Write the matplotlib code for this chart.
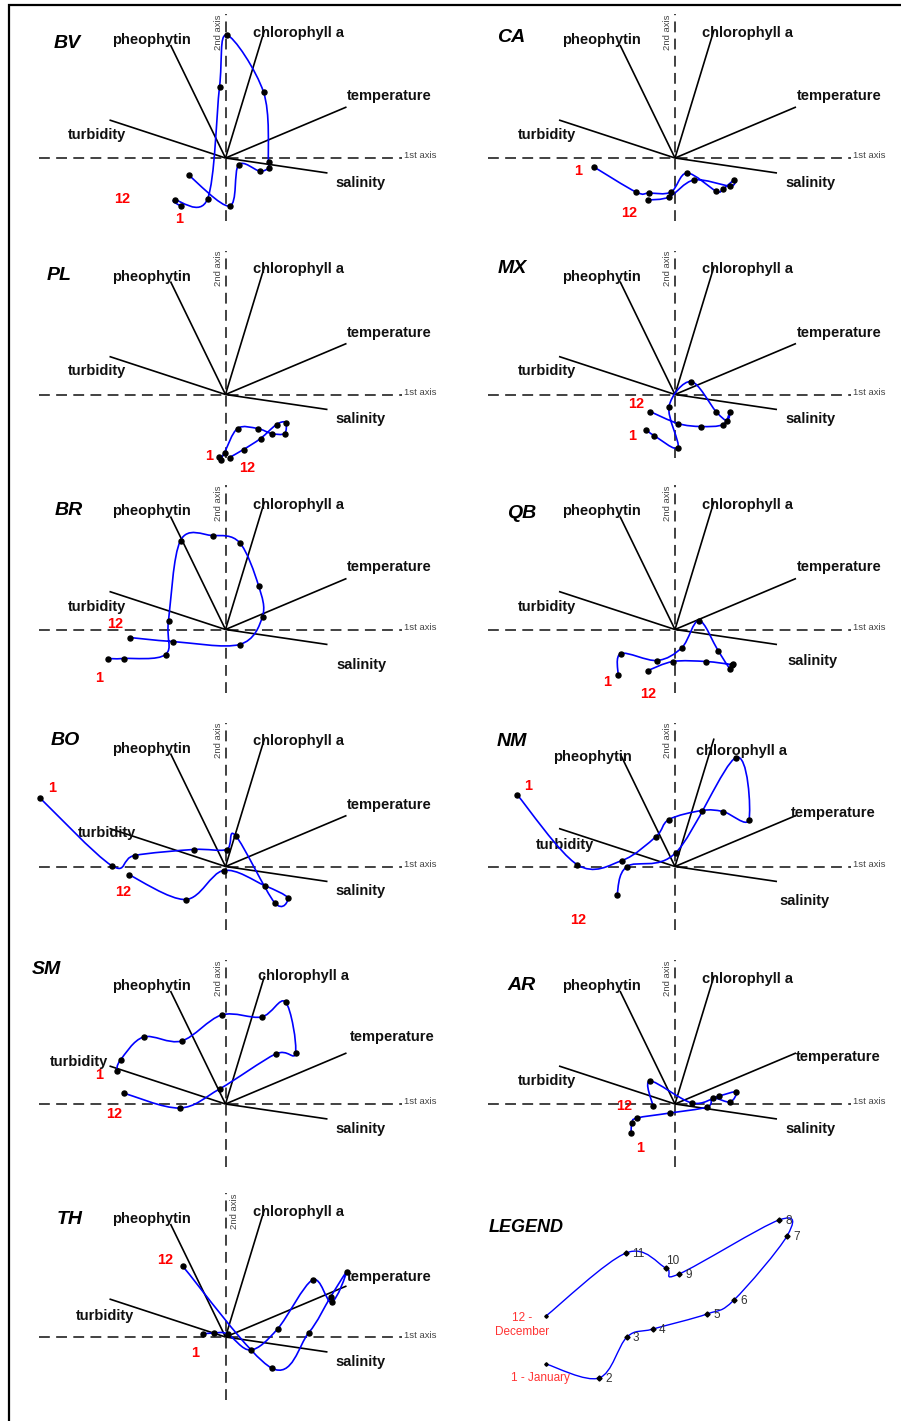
import numpy as np
import matplotlib
matplotlib.use("Agg")
import matplotlib.pyplot as plt
from matplotlib.path import Path
from matplotlib.patches import PathPatch, Rectangle

plt.rcParams['font.family'] = ['Liberation Sans', 'DejaVu Sans']

# environmental variables: end points of the vectors (same in every panel)
variables = ['turbidity', 'pheophytin', 'chlorophyll a', 'temperature', 'salinity']
load_x = [-116, -55, 39, 121, 102]
load_y = [38, 113, 128, 51, -15]

# monthly site scores, January .. December
sites = ['BV', 'CA', 'PL', 'MX', 'BR', 'QB', 'BO', 'NM', 'SM', 'AR', 'TH']
bv_x = [-45, -51, -18, -6, 1, 38, 43, 43, 34, 13, 4, -37]
bv_y = [-48, -42, -41, 71, 123, 66, -4, -10, -13, -7, -48, -17]
ca_x = [-81, -39, -26, -4, 12, 41, 48, 59, 55, 19, -6, -27]
ca_y = [-9, -34, -35, -34, -15, -33, -31, -22, -28, -22, -39, -42]
pl_x = [-7, -5, -1, 12, 32, 46, 59, 60, 51, 35, 18, 4]
pl_y = [-62, -65, -58, -34, -34, -39, -39, -28, -30, -44, -55, -63]
mx_x = [-29, -21, 3, -6, 16, 41, 52, 55, 48, 26, 3, -25]
mx_y = [-35, -41, -53, -12, 13, -17, -26, -17, -30, -32, -29, -17]
br_x = [-118, -102, -60, -57, -45, -13, 14, 33, 37, 14, -53, -96]
br_y = [-29, -29, -25, 9, 89, 94, 87, 44, 13, -15, -12, -8]
qb_x = [-57, -54, -18, 7, 24, 43, 55, 58, 57, 31, -2, -27]
qb_y = [-45, -24, -31, -18, 9, -21, -39, -34, -35, -32, -32, -41]
bo_x = [-186, -114, -91, -32, 1, 10, 49, 62, 39, -2, -40, -97]
bo_y = [69, 1, 11, 17, 17, 31, -36, -31, -19, -4, -33, -8]
nm_x = [-158, -98, -53, -19, -6, 27, 48, 74, 61, 1, -48, -58]
nm_y = [72, 2, 6, 30, 47, 56, 55, 47, 109, 14, 0, -28]
sm_x = [-109, -105, -82, -44, -4, 36, 60, 70, 50, -6, -46, -102]
sm_y = [33, 44, 67, 63, 89, 87, 102, 51, 50, 15, -4, 11]
ar_x = [-44, -43, -38, -5, 32, 38, 55, 61, 44, 17, -25, -22]
ar_y = [-29, -19, -14, -9, -3, 6, 2, 12, 8, 1, 23, -2]
th_x = [-23, -12, 2, 25, 52, 87, 106, 121, 105, 83, 46, -43]
th_y = [3, 4, 3, -13, 8, 57, 35, 65, 40, 4, -31, 71]
site_x = [bv_x, ca_x, pl_x, mx_x, br_x, qb_x, bo_x, nm_x, sm_x, ar_x, th_x]
site_y = [bv_y, ca_y, pl_y, mx_y, br_y, qb_y, bo_y, nm_y, sm_y, ar_y, th_y]

# legend example path
legend_x = [-129, -76, -48, -22, 32, 59, 112, 104, 4, -9, -49, -129]
legend_y = [-27, -41, 0, 8, 23, 37, 101, 117, 63, 69, 84, 21]

# ---- layout (pixels) ----
W, H = 901, 1421
col_x = [225.5, 675]
row_y = [158, 394.5, 629.5, 866.5, 1104, 1337]

title_pos = {'BV': (-158, 114), 'CA': (-164, 120), 'PL': (-166, 119), 'MX': (-163, 126),
             'BR': (-157, 119), 'QB': (-153, 116), 'BO': (-160, 126), 'NM': (-163, 125),
             'SM': (-179, 135), 'AR': (-153, 118), 'TH': (-156, 117)}
first_pos = {'BV': (-46, -61), 'CA': (-97, -13), 'PL': (-16, -62), 'MX': (-43, -42),
             'BR': (-126, -49), 'QB': (-68, -53), 'BO': (-173, 79), 'NM': (-147, 80),
             'SM': (-126, 29), 'AR': (-35, -44), 'TH': (-30, -16)}
last_pos = {'BV': (-103, -41), 'CA': (-46, -55), 'PL': (22, -73), 'MX': (-39, -10),
            'BR': (-110, 6), 'QB': (-27, -64), 'BO': (-102, -26), 'NM': (-97, -54),
            'SM': (-111, -10), 'AR': (-51, -2), 'TH': (-60, 77)}
var_pos_default = {'turbidity': (-128, 23), 'pheophytin': (-74, 118), 'chlorophyll a': (73, 125),
                   'temperature': (164, 62), 'salinity': (135, -25)}
var_pos_override = {
    'BR': {'salinity': (136, -35)},
    'QB': {'salinity': (138, -31)},
    'BO': {'turbidity': (-119, 34)},
    'NM': {'pheophytin': (-83, 110), 'chlorophyll a': (67, 116), 'temperature': (158, 54),
           'turbidity': (-110, 22), 'salinity': (130, -34)},
    'SM': {'turbidity': (-147, 42), 'chlorophyll a': (78, 128), 'temperature': (167, 67)},
    'AR': {'temperature': (163, 47)},
    'TH': {'temperature': (164, 60), 'turbidity': (-121, 21)},
}


def smooth_path(xs, ys):
    # Bezier path through the points (Catmull-Rom style control points)
    P = np.column_stack([xs, ys]).astype(float)
    n = len(P)
    verts = [P[0]]
    codes = [Path.MOVETO]
    for i in range(n - 1):
        p0 = P[i - 1] if i > 0 else P[i]
        p1, p2 = P[i], P[i + 1]
        p3 = P[i + 2] if i + 2 < n else P[i + 1]
        verts += [p1 + (p2 - p0) / 6, p2 - (p3 - p1) / 6, p2]
        codes += [Path.CURVE4] * 3
    return Path(verts, codes)


def make_axes(fig, ox, oy):
    ax = fig.add_axes([(ox - 225) / W, (H - (oy + 78)) / H, 450 / W, 236 / H])
    ax.set_xlim(-225, 225)
    ax.set_ylim(-78, 158)
    ax.axis('off')
    return ax


fig = plt.figure(figsize=(W / 100, H / 100), dpi=100)

for k, site in enumerate(sites):
    ox = col_x[k % 2]
    oy = row_y[k // 2]
    ax = make_axes(fig, ox, oy)

    # dashed ordination axes
    ax.plot([-187, 176], [0, 0], color='#333333', lw=1.3, ls=(0, (6, 3.5)))
    ax.plot([0, 0], [-63, 144], color='#333333', lw=1.3, ls=(0, (6, 3.5)))
    ax.text(178, 2, '1st axis', fontsize=6.8, color='#444444', ha='left', va='center')
    if site == 'TH':
        ax.text(9, 126, '2nd axis', fontsize=6.8, color='#444444', rotation=90,
                ha='center', va='center')
    else:
        ax.text(-7, 126, '2nd axis', fontsize=6.8, color='#444444', rotation=90,
                ha='center', va='center')

    # variable vectors
    for v, lx, ly in zip(variables, load_x, load_y):
        ax.plot([0, lx], [0, ly], color='black', lw=1.2, solid_capstyle='butt')
        px, py = var_pos_override.get(site, {}).get(v, var_pos_default[v])
        ax.text(px, py, v, fontsize=10.5, fontweight='bold', color='#111111',
                ha='center', va='center')

    # monthly trajectory
    ax.add_patch(PathPatch(smooth_path(site_x[k], site_y[k]), fc='none',
                           ec='#0000ff', lw=1.2, zorder=3))
    ax.plot(site_x[k], site_y[k], 'o', color='black', ms=3.6, zorder=4)

    ax.text(*title_pos[site], site, fontsize=14, fontweight='bold', style='italic',
            ha='center', va='center')
    ax.text(*first_pos[site], '1', fontsize=10.5, fontweight='bold', color='red',
            ha='center', va='center')
    ax.text(*last_pos[site], '12', fontsize=10.5, fontweight='bold', color='red',
            ha='center', va='center')

# legend panel
ax = make_axes(fig, col_x[1], row_y[5])
ax.text(-149, 110, 'LEGEND', fontsize=13, fontweight='bold', style='italic',
        ha='center', va='center')
ax.add_patch(PathPatch(smooth_path(legend_x, legend_y), fc='none', ec='#0000ff', lw=1.0, zorder=3))
ax.plot(legend_x[1:-1], legend_y[1:-1], 'D', color='black', ms=2.6, zorder=4)
ax.plot([legend_x[0], legend_x[-1]], [legend_y[0], legend_y[-1]], 'D', color='black', ms=1.8, zorder=4)
for m in range(2, 12):
    dx, dy = (0, 7) if m == 10 else (6, -1)
    ax.text(legend_x[m - 1] + dx, legend_y[m - 1] + dy, str(m), fontsize=8.5,
            color='#333333', ha='left', va='center')
ax.text(-153, 12, '12 -\nDecember', fontsize=8.5, color='#ff3333', ha='center',
        va='center', linespacing=1.25)
ax.text(-135, -41, '1 - January', fontsize=8.5, color='#ff3333', ha='center', va='center')

# outer frame
fig.patches.append(Rectangle((9 / W, -0.05), 1.2, 1 - 5 / H + 0.05, transform=fig.transFigure,
                             fill=False, ec='black', lw=1.6))

fig.savefig('out.png', dpi=100)
